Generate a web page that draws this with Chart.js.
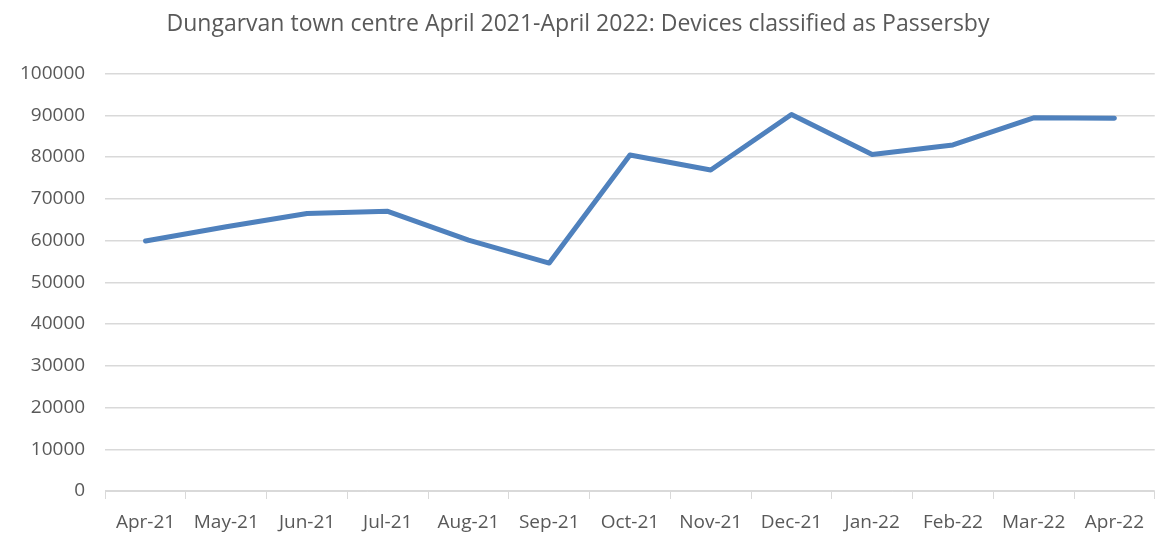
<!DOCTYPE html>
<html>
<head>
<meta charset="utf-8">
<script src="https://cdn.jsdelivr.net/npm/chart.js@4"></script>
<style>
  html, body { margin: 0; padding: 0; background: #ffffff; }
  #wrap { width: 1156px; height: 536px; }
</style>
</head>
<body>
<div id="wrap"><canvas id="chart" width="1156" height="536"></canvas></div>
<script>
// months on the x axis
const months = ["Apr-21", "May-21", "Jun-21", "Jul-21", "Aug-21", "Sep-21", "Oct-21",
	"Nov-21", "Dec-21", "Jan-22", "Feb-22", "Mar-22", "Apr-22"];
// devices classified as passersby
const passersby = [59900, 63300, 66500, 67000, 60100, 54600, 80500,
	76900, 90200, 80600, 82900, 89400, 89300];
const yMin = 0;
const yMax = 100000;
const yStep = 10000;

const textColor = "#595959";
const gridColor = "#d9d9d9";
const fontFamily = "'Open Sans', 'Noto Sans', sans-serif";

new Chart(document.getElementById("chart"), {
	type: "line",
	data: {
		labels: months,
		datasets: [{
			label: "Passersby",
			data: passersby,
			borderColor: "#4f81bd",
			backgroundColor: "#4f81bd",
			borderWidth: 5,
			pointRadius: 0,
			tension: 0,
			borderCapStyle: "round",
			borderJoinStyle: "round"
		}]
	},
	options: {
		responsive: false,
		animation: false,
		layout: { padding: { left: 0, right: 0, top: 0, bottom: 0 } },
		plugins: {
			legend: { display: false },
			tooltip: { enabled: false },
			title: {
				display: true,
				text: "Dungarvan town centre April 2021-April 2022: Devices classified as Passersby",
				color: textColor,
				font: { family: fontFamily, size: 23, weight: "normal" },
				padding: { top: 11, bottom: 35 }
			}
		},
		scales: {
			x: {
				offset: true,
				// keep the axis band the same height as the picture
				afterFit: scale => { scale.height = 45; },
				grid: {
					offset: true,
					drawOnChartArea: false,
					drawTicks: true,
					tickLength: 8,
					color: gridColor
				},
				border: { color: gridColor, width: 1 },
				ticks: {
					color: textColor,
					font: { family: fontFamily, size: 19 },
					maxRotation: 0,
					autoSkip: false,
					padding: 12
				}
			},
			y: {
				min: yMin,
				max: yMax,
				grid: { color: gridColor, lineWidth: 1.5, drawTicks: false },
				border: { display: false },
				ticks: {
					stepSize: yStep,
					color: textColor,
					font: { family: fontFamily, size: 19 },
					padding: 20,
					callback: v => String(v)
				}
			}
		}
	}
});
</script>
</body>
</html>
